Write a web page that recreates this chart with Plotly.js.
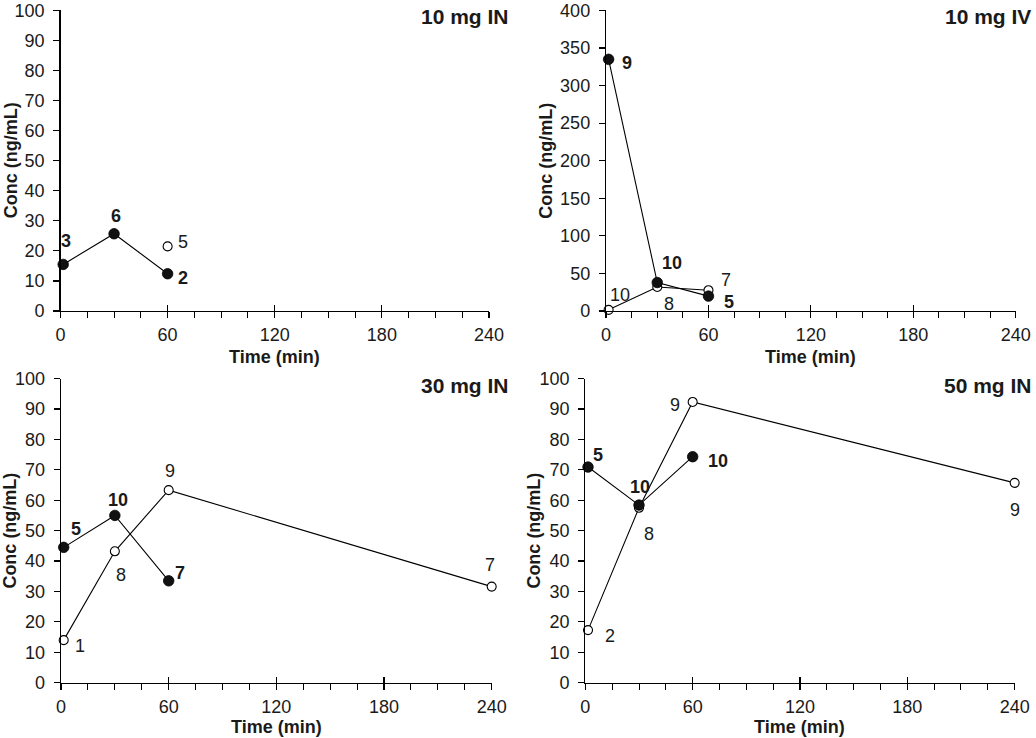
<!DOCTYPE html>
<html>
<head>
<meta charset="utf-8">
<script src="https://cdn.plot.ly/plotly-3.0.1.min.js"></script>
<style>html,body{margin:0;padding:0;background:#fff;}#chart{width:1036px;height:738px;}</style>
</head>
<body>
<div id="chart"></div>
<script>
// ---- data ----
const panelTitles = ["10 mg IN", "10 mg IV", "30 mg IN", "50 mg IN"];
const xTitle = "Time (min)";
const yTitle = "Conc (ng/mL)";

const in10FilledX = [1.5, 30, 60];
const in10FilledY = [15.5, 25.7, 12.4];
const in10FilledLbl = ["3", "6", "2"];
const in10OpenX = [60];
const in10OpenY = [21.5];
const in10OpenLbl = ["5"];

const iv10FilledX = [1.5, 30, 60];
const iv10FilledY = [335, 37.9, 19.8];
const iv10FilledLbl = ["9", "10", "5"];
const iv10OpenX = [1.5, 30, 60];
const iv10OpenY = [1.5, 32, 27.7];
const iv10OpenLbl = ["10", "8", "7"];

const in30FilledX = [1.5, 30, 60];
const in30FilledY = [44.5, 55, 33.5];
const in30FilledLbl = ["5", "10", "7"];
const in30OpenX = [1.5, 30, 60, 240];
const in30OpenY = [14, 43.2, 63.3, 31.6];
const in30OpenLbl = ["1", "8", "9", "7"];

const in50FilledX = [1.5, 30, 60];
const in50FilledY = [70.9, 58.4, 74.3];
const in50FilledLbl = ["5", "10", "10"];
const in50OpenX = [1.5, 30, 60, 240];
const in50OpenY = [17.3, 57.5, 92.3, 65.7];
const in50OpenLbl = ["2", "8", "9", "9"];

// ---- label offsets (style, px: [dx, dy-down]) ----
const offIn10F = [[3,-23],[2,-18],[15,4]];
const offIn10O = [[15,-4]];
const offIv10F = [[18,4],[15,-20],[21,6]];
const offIv10O = [[11,-15],[12,17],[18,-10]];
const offIn30F = [[12,-18],[3,-15],[11,-8]];
const offIn30O = [[16,6],[6,24],[1,-19],[-2,-22]];
const offIn50F = [[10,-12],[1,-18],[25,4]];
const offIn50O = [[22,6],[10,26],[-18,3],[0,27]];

const INK = "#1a1a1a";
const FONT = "Arial, 'Liberation Sans', Helvetica, sans-serif";

const panels = [
  {xa:"x",  ya:"y",  f:[in10FilledX,in10FilledY,in10FilledLbl,offIn10F], o:[in10OpenX,in10OpenY,in10OpenLbl,offIn10O]},
  {xa:"x2", ya:"y2", f:[iv10FilledX,iv10FilledY,iv10FilledLbl,offIv10F], o:[iv10OpenX,iv10OpenY,iv10OpenLbl,offIv10O]},
  {xa:"x3", ya:"y3", f:[in30FilledX,in30FilledY,in30FilledLbl,offIn30F], o:[in30OpenX,in30OpenY,in30OpenLbl,offIn30O]},
  {xa:"x4", ya:"y4", f:[in50FilledX,in50FilledY,in50FilledLbl,offIn50F], o:[in50OpenX,in50OpenY,in50OpenLbl,offIn50O]}
];

const traces = [];
const annotations = [];
panels.forEach((p, i) => {
  traces.push({
    type:"scatter", mode:"lines+markers", x:p.o[0], y:p.o[1], xaxis:p.xa, yaxis:p.ya,
    line:{color:"#000", width:1.1},
    marker:{symbol:"circle", size:9, color:"#fff", line:{color:"#000", width:1.1}},
    cliponaxis:false, showlegend:false, hoverinfo:"x+y"
  });
  traces.push({
    type:"scatter", mode:"lines+markers", x:p.f[0], y:p.f[1], xaxis:p.xa, yaxis:p.ya,
    line:{color:"#000", width:1.1},
    marker:{symbol:"circle", size:10.5, color:"#111", line:{color:"#000", width:0.8}},
    cliponaxis:false, showlegend:false, hoverinfo:"x+y"
  });
  // overlay axis carrier (inside major ticks)
  traces.push({type:"scatter", mode:"markers", x:[], y:[], xaxis:"x"+(i+5), yaxis:p.ya, showlegend:false, hoverinfo:"skip"});
  [[p.f, true], [p.o, false]].forEach(([s, bold]) => {
    s[0].forEach((xv, k) => {
      annotations.push({
        xref:p.xa, yref:p.ya, x:xv, y:s[1][k], text: bold ? "<b>"+s[2][k]+"</b>" : s[2][k],
        showarrow:false, xanchor:"center", yanchor:"middle",
        xshift:s[3][k][0], yshift:-s[3][k][1],
        font:{family:FONT, size:18, color:INK}
      });
    });
  });
});

const xDom = [[0.0584, 0.4720], [0.5850, 0.9804], [0.0589, 0.4746], [0.5650, 0.9794]];
const yDom = [[0.5786, 0.9858], [0.5786, 0.9858], [0.0749, 0.4871], [0.0749, 0.4871]];
const yRanges = [[0,100],[0,400],[0,100],[0,100]];
const yDticks = [10, 50, 10, 10];

const layout = {
  width:1036, height:738,
  margin:{l:0, r:0, t:0, b:0},
  paper_bgcolor:"#fff", plot_bgcolor:"#fff",
  showlegend:false,
  font:{family:FONT, color:INK, size:18},
  annotations:annotations
};

for (let i = 0; i < 4; i++) {
  const n = i === 0 ? "" : String(i+1);
  layout["xaxis"+n] = {
    domain:xDom[i], anchor:"y"+n, range:[0,240], tickmode:"linear", tick0:0, dtick:60,
    ticks:"outside", ticklen:6, tickwidth:1.2, tickcolor:"#000",
    showline:true, linecolor:"#000", linewidth:1.3, showgrid:false, zeroline:false,
    minor:{tickmode:"linear", tick0:0, dtick:15, ticks:"outside", ticklen:6, tickwidth:1, tickcolor:"#000", showgrid:false},
    tickfont:{family:FONT, size:18, color:INK}, ticklabelstandoff:1, ticklabeloverflow:"allow", fixedrange:true
  };
  layout["xaxis"+(i+5)] = {
    overlaying:"x"+n, anchor:"y"+n, range:[0,240], tickmode:"linear", tick0:0, dtick:60,
    ticks:"inside", ticklen:6, tickwidth:1.2, tickcolor:"#000",
    showline:false, showgrid:false, zeroline:false, showticklabels:false, side:"bottom", fixedrange:true
  };
  layout["yaxis"+n] = {
    domain:yDom[i], anchor:"x"+n, range:yRanges[i], tickmode:"linear", tick0:0, dtick:yDticks[i],
    ticks:"outside", ticklen:6, tickwidth:1.2, tickcolor:"#000",
    showline:true, linecolor:"#000", linewidth:1.3, showgrid:false, zeroline:false,
    tickfont:{family:FONT, size:18, color:INK}, ticklabelstandoff:5, ticklabeloverflow:"allow", fixedrange:true
  };
}

// axis titles and panel titles
const yTitleX = [10.5, 546, 10, 534];
const titleRight = [511, 1033, 511, 1034];
const titleY = [16, 16, 385, 386];
const xTitleY = [357, 357, 727, 727];
for (let i = 0; i < 4; i++) {
  annotations.push({
    xref:"paper", yref:"paper", x:(xDom[i][0]+xDom[i][1])/2, y:1 - xTitleY[i]/738,
    text:"<b>"+xTitle+"</b>", showarrow:false, xanchor:"center", yanchor:"middle",
    font:{family:FONT, size:18, color:INK}
  });
  annotations.push({
    xref:"paper", yref:"paper", x:yTitleX[i]/1036, y:(yDom[i][0]+yDom[i][1])/2,
    text:"<b>"+yTitle+"</b>", textangle:-90, showarrow:false, xanchor:"center", yanchor:"middle",
    font:{family:FONT, size:18, color:INK}
  });
  annotations.push({
    xref:"paper", yref:"paper", x:titleRight[i]/1036, y:1 - titleY[i]/738,
    text:"<b>"+panelTitles[i]+"</b>", showarrow:false, xanchor:"right", yanchor:"middle",
    font:{family:FONT, size:21, color:INK}
  });
}

Plotly.newPlot("chart", traces, layout, {displayModeBar:false, staticPlot:true});
</script>
</body>
</html>
